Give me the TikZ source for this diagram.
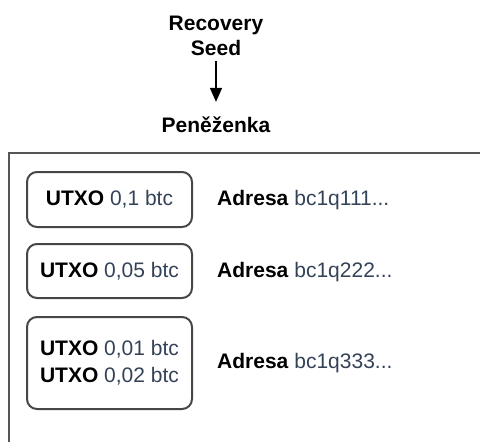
\documentclass[tikz,border=0pt]{standalone}
\usepackage{fontspec}
\setmainfont{Liberation Sans}
\usetikzlibrary{arrows.meta}
\definecolor{valtext}{RGB}{52,66,88}
\definecolor{boxline}{RGB}{70,70,70}
\definecolor{outerline}{RGB}{85,85,85}
\tikzset{
  lbl/.style={font=\fontsize{21}{25}\selectfont, inner sep=0pt, text=black},
  utxobox/.style={draw=boxline, line width=2pt, rounded corners=10pt, minimum width=165pt, align=center, inner sep=0pt, font=\fontsize{21}{27}\selectfont},
  val/.style={text=valtext}
}
\newcommand{\utxo}[1]{\textbf{UTXO} \textcolor{valtext}{#1}}
\begin{document}
\begin{tikzpicture}[x=1pt,y=-1pt]
\useasboundingbox (0,0) rectangle (480,442);
\begin{scope}
\clip (0,0) rectangle (480,442);
\draw[outerline, line width=2pt] (490,153) -- (9,153) -- (9,460);
\end{scope}
\node[lbl, align=center] (seed) at (216,36) {\textbf{Recovery}\\\textbf{Seed}};
\node[lbl] (wallet) at (216,125) {\textbf{Peněženka}};
\draw[line width=1.6pt, -{Triangle[length=14pt,width=12pt]}, shorten <=5pt, shorten >=15pt] (seed.south) -- (wallet.north);
\node[utxobox, minimum height=55pt] (u1) at (109.5,199.5) {\utxo{0,1 btc}};
\node[utxobox, minimum height=54pt] (u2) at (109.5,271) {\utxo{0,05 btc}};
\node[utxobox, minimum height=92pt] (u3) at (109.5,363) {\utxo{0,01 btc}\\\utxo{0,02 btc}};
\node[lbl, anchor=west] (a1) at (217,200) {\textbf{Adresa} \textcolor{valtext}{bc1q111...}};
\node[lbl, anchor=west] (a2) at (217,272) {\textbf{Adresa} \textcolor{valtext}{bc1q222...}};
\node[lbl, anchor=west] (a3) at (217,363) {\textbf{Adresa} \textcolor{valtext}{bc1q333...}};
\end{tikzpicture}
\end{document}
